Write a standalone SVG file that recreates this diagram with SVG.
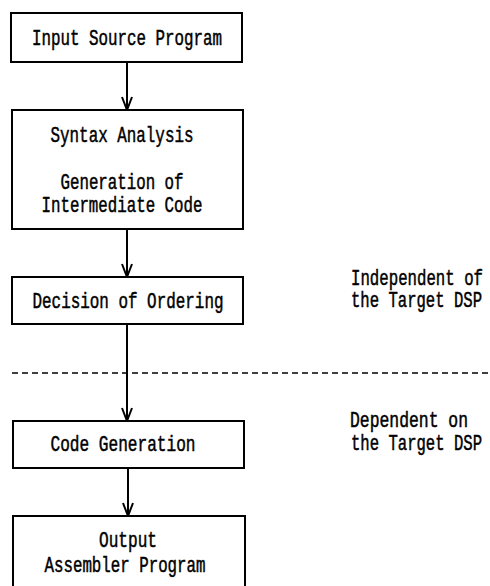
<svg xmlns="http://www.w3.org/2000/svg" width="490" height="586" viewBox="0 0 490 586">
<style>
.box{fill:#fff;stroke:#000;stroke-width:2}
.t{font-family:"Liberation Mono","DejaVu Sans Mono",monospace;font-size:22px;fill:#000;stroke:#000;stroke-width:0.5;text-anchor:middle}
.r{font-family:"Liberation Mono","DejaVu Sans Mono",monospace;font-size:22px;fill:#000;stroke:#000;stroke-width:0.5}
.c{stroke:#000;stroke-width:2;fill:none}
</style>
<defs>
<marker id="ah" markerWidth="16" markerHeight="14" refX="14" refY="7" orient="auto" markerUnits="userSpaceOnUse" viewBox="0 0 16 14">
<path d="M1,2 L14,7 L1,12" fill="none" stroke="#000" stroke-width="2"/>
</marker>
</defs>
<rect width="490" height="586" fill="#fff"/>
<g id="connectors">
<line class="c" x1="127" y1="62" x2="127" y2="110" marker-end="url(#ah)"/>
<line class="c" x1="127" y1="229" x2="127" y2="277" marker-end="url(#ah)"/>
<line class="c" x1="127" y1="324" x2="127" y2="421" marker-end="url(#ah)"/>
<line class="c" x1="128" y1="468" x2="128" y2="516" marker-end="url(#ah)"/>
</g>
<g id="divider">
<line x1="12" y1="373" x2="490" y2="373" stroke="#000" stroke-width="1.5" stroke-dasharray="6,4"/>
</g>
<g id="n1">
<rect class="box" x="11" y="13" width="231" height="49"/>
<text class="t" x="127" y="45" textLength="190" lengthAdjust="spacingAndGlyphs">Input Source Program</text>
</g>
<g id="n2">
<rect class="box" x="12" y="110" width="231" height="119"/>
<text class="t" x="122" y="142" textLength="143" lengthAdjust="spacingAndGlyphs">Syntax Analysis</text>
<text class="t" x="122" y="189" textLength="123" lengthAdjust="spacingAndGlyphs">Generation of</text>
<text class="t" x="122" y="212" textLength="161" lengthAdjust="spacingAndGlyphs">Intermediate Code</text>
</g>
<g id="n3">
<rect class="box" x="12" y="277" width="231" height="47"/>
<text class="t" x="128" y="308" textLength="191" lengthAdjust="spacingAndGlyphs">Decision of Ordering</text>
</g>
<g id="n4">
<rect class="box" x="13" y="421" width="231" height="47"/>
<text class="t" x="123" y="451" textLength="145" lengthAdjust="spacingAndGlyphs">Code Generation</text>
</g>
<g id="n5">
<rect class="box" x="13" y="516" width="232" height="80"/>
<text class="t" x="128" y="547" textLength="58" lengthAdjust="spacingAndGlyphs">Output</text>
<text class="t" x="125" y="572" textLength="161" lengthAdjust="spacingAndGlyphs">Assembler Program</text>
</g>
<g id="labels">
<text class="r" x="351" y="285" textLength="132" lengthAdjust="spacingAndGlyphs">Independent of</text>
<text class="r" x="351" y="307" textLength="131" lengthAdjust="spacingAndGlyphs">the Target DSP</text>
<text class="r" x="350" y="427" textLength="118" lengthAdjust="spacingAndGlyphs">Dependent on</text>
<text class="r" x="351" y="450" textLength="131" lengthAdjust="spacingAndGlyphs">the Target DSP</text>
</g>
</svg>
